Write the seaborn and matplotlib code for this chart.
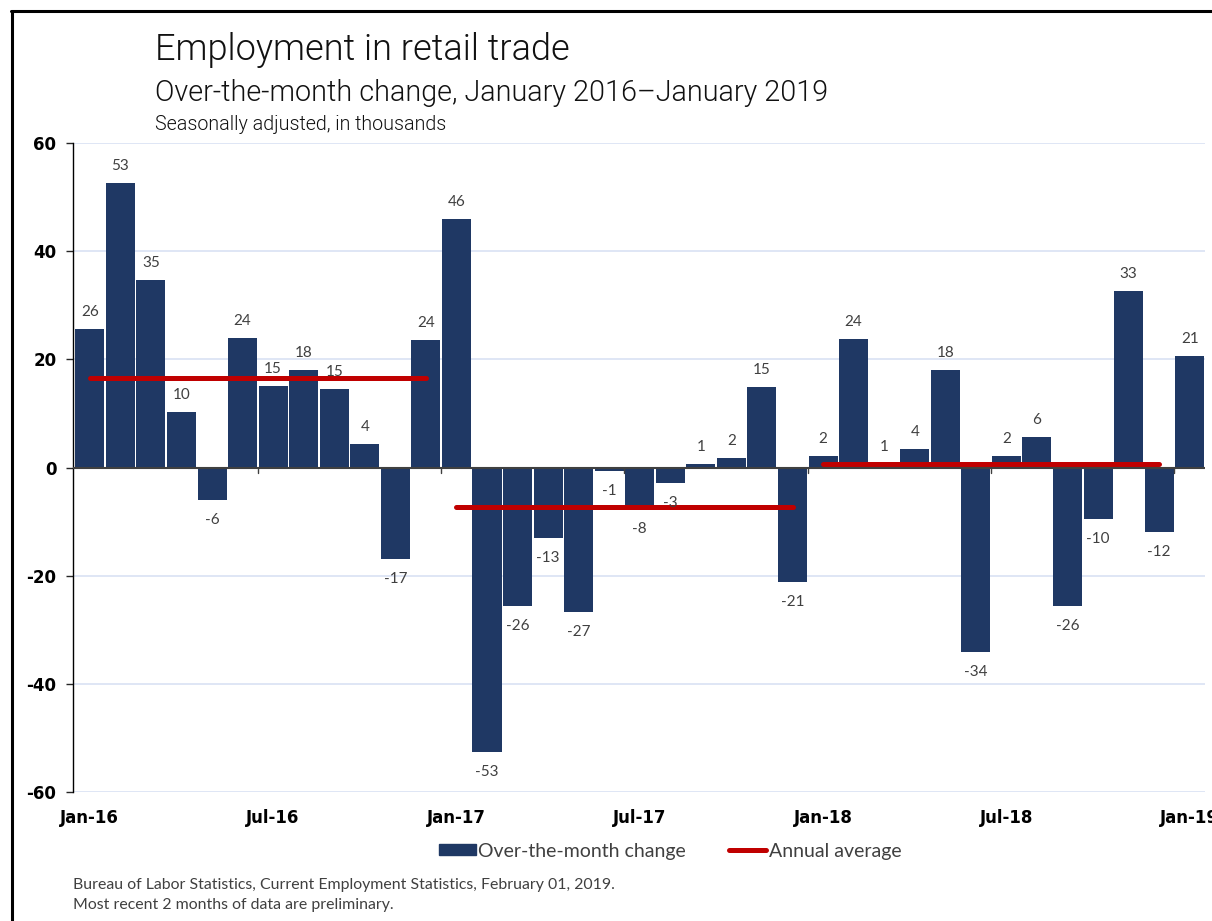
import numpy as np
import pandas as pd
import matplotlib
matplotlib.use("Agg")
import matplotlib.pyplot as plt
import seaborn as sns
from matplotlib.lines import Line2D
from matplotlib.patches import Patch

# ---------------- data ----------------
months = [d.strftime("%b-%y") for d in pd.date_range("2016-01-01", periods=37, freq="MS")]
values = [25.6, 52.6, 34.6, 10.2, -6.1, 23.9, 15.0, 18.0, 14.6, 4.3, -17.0, 23.6,
          45.9, -52.6, -25.7, -13.0, -26.7, -0.7, -7.6, -2.8, 0.7, 1.7, 14.9, -21.1,
          2.2, 23.7, 0.6, 3.5, 18.1, -34.1, 2.2, 5.7, -25.7, -9.6, 32.6, -11.9,
          20.7]
avg_years = ["2016", "2017", "2018"]
annual_avg = [16.6, -7.3, 0.6]
tick_labels = ["Jan-16", "Jul-16", "Jan-17", "Jul-17", "Jan-18", "Jul-18", "Jan-19"]
y_ticks = [-60, -40, -20, 0, 20, 40, 60]

NAVY = "#1f3864"
RED = "#c00000"
GRAY = "#404040"
GRID = "#d9e2f3"

sns.set_theme(style="white")
plt.rcParams["font.family"] = ["Lato", "DejaVu Sans"]

W, H = 1212, 921
fig = plt.figure(figsize=(W / 100, H / 100), dpi=100)
ax = fig.add_axes([73 / W, 1 - 792 / H, (1205 - 73) / W, (792 - 143) / H])

df = pd.DataFrame({"month": months, "value": values})
sns.barplot(data=df, x="month", y="value", color=NAVY, saturation=1,
            width=0.95, ax=ax, zorder=3, linewidth=0)

# annual average lines
rows = []
for i, (yr, a) in enumerate(zip(avg_years, annual_avg)):
    rows.append({"year": yr, "x": 12 * i, "avg": a})
    rows.append({"year": yr, "x": 12 * i + 11, "avg": a})
df_avg = pd.DataFrame(rows)
sns.lineplot(data=df_avg, x="x", y="avg", units="year", estimator=None,
             color=RED, linewidth=3.6, solid_capstyle="round", ax=ax, zorder=4,
             legend=False)

# data labels
for i, v in enumerate(values):
    off = 17 if v >= 0 else -20
    ax.annotate(f"{v:.0f}", (i, v), xytext=(0, off), textcoords="offset pixels",
                ha="center", va="center", fontsize=11, color=GRAY, zorder=6,
                family=["Lato", "DejaVu Sans"])

# axes styling
ax.set_xlim(-0.55, 36.5)
ax.set_ylim(-60, 60)
ax.set_yticks(y_ticks)
ax.set_yticklabels([str(t) for t in y_ticks], fontsize=12, fontweight="bold",
                   family="DejaVu Sans", color="black")
ax.set_xticks(list(range(0, 37, 6)))
ax.set_xticklabels(tick_labels, fontsize=12, fontweight="bold",
                   family="DejaVu Sans", color="black")
ax.tick_params(axis="x", length=0, pad=12)
ax.tick_params(axis="y", length=5, width=1, direction="out", pad=7, left=True)
ax.set_xlabel("")
ax.set_ylabel("")
for t in y_ticks:
    if t != 0:
        ax.axhline(t, color=GRID, linewidth=1.2, zorder=1)
ax.axhline(0, color=GRAY, linewidth=1.5, zorder=5)
# small tick marks on the zero line at half-year boundaries
for b in np.arange(5.5, 36, 6):
    ax.plot([b, b], [0, -1.1], color=GRAY, linewidth=1, zorder=5)
for s in ["top", "right", "bottom"]:
    ax.spines[s].set_visible(False)
ax.spines["left"].set_color("black")
ax.spines["left"].set_linewidth(1)

# titles
TFAM = ["Roboto", "DejaVu Sans"]
fig.text(155 / W, 1 - 50 / H, "Employment in retail trade", fontsize=26,
         fontweight=300, family=TFAM, color="#111111", va="center", ha="left")
fig.text(155 / W, 1 - 93 / H, "Over-the-month change, January 2016\u2013January 2019",
         fontsize=20.7, fontweight=300, family=TFAM, color="#111111", va="center", ha="left")
fig.text(155 / W, 1 - 124 / H, "Seasonally adjusted, in thousands", fontsize=14.1,
         fontweight=300, family=TFAM, color="#111111", va="center", ha="left")

# legend
handles = [Patch(facecolor=NAVY, edgecolor=NAVY),
           Line2D([0], [0], color=RED, linewidth=3.6, solid_capstyle="round")]
fig.legend(handles, ["Over-the-month change", "Annual average"],
           loc="center", bbox_to_anchor=(670 / W, 1 - 851 / H), ncol=2,
           frameon=False, fontsize=14, handlelength=1.9, handleheight=0.55,
           handletextpad=0.15, columnspacing=2.2, labelcolor=GRAY)

# footer
fig.text(73 / W, 1 - 885 / H,
         "Bureau of Labor Statistics, Current Employment Statistics, February 01, 2019.",
         fontsize=11.4, color=GRAY, va="center", ha="left")
fig.text(73 / W, 1 - 905 / H, "Most recent 2 months of data are preliminary.",
         fontsize=11.4, color=GRAY, va="center", ha="left")

# frame border (left and top)
fig.add_artist(Line2D([11.5 / W, 11.5 / W], [0, 1 - 11 / H], color="black",
                      linewidth=2.2, transform=fig.transFigure))
fig.add_artist(Line2D([10.5 / W, 1], [1 - 11 / H, 1 - 11 / H], color="black",
                      linewidth=2.2, transform=fig.transFigure))

fig.savefig("out.png", dpi=100)
